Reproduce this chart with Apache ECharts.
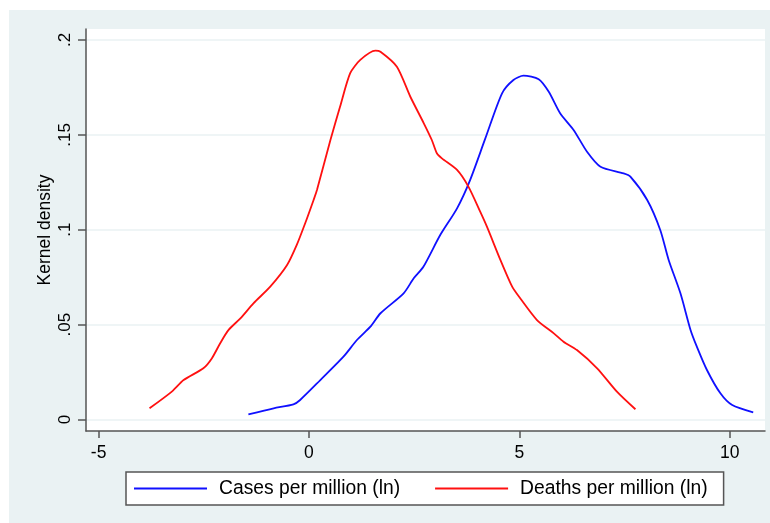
<!DOCTYPE html>
<html>
<head>
<meta charset="utf-8">
<script src="https://cdn.jsdelivr.net/npm/echarts@6/dist/echarts.min.js"></script>
<style>
html,body{margin:0;padding:0;background:#ffffff;}
#chart{width:770px;height:523px;}
</style>
</head>
<body>
<div id="chart"></div>
<script>
// Data
const seriesNames = ['Cases per million (ln)', 'Deaths per million (ln)'];
const casesX = [-1.44,-0.84,-0.37,-0.21,0.27,0.82,1.14,1.46,1.70,2.25,2.49,2.72,3.12,3.52,3.83,4.19,4.59,4.86,5.10,5.46,5.70,5.97,6.29,6.61,6.93,7.48,7.64,8.04,8.35,8.55,8.83,9.07,9.22,9.46,9.78,10.06,10.56];
const casesY = [.0027,.0059,.0080,.0103,.0208,.0331,.0419,.0489,.0560,.0665,.0744,.0805,.0972,.1113,.1262,.1480,.1719,.1789,.1812,.1793,.1727,.1614,.1526,.1411,.1332,.1297,.1280,.1157,.0999,.0841,.0665,.0472,.0384,.0261,.0138,.0076,.0038];
const deathsX = [-3.79,-3.26,-2.98,-2.51,-2.31,-2.11,-1.91,-1.63,-1.32,-0.92,-0.52,-0.29,-0.09,0.11,0.19,0.51,0.74,0.98,1.22,1.58,1.70,2.09,2.41,2.73,2.92,3.04,3.16,3.52,3.79,4.07,4.23,4.55,4.83,5.02,5.42,5.82,6.05,6.37,6.85,7.32,7.76];
const deathsY = [.0059,.0147,.0208,.0270,.0322,.0402,.0472,.0533,.0612,.0700,.0814,.0920,.1034,.1157,.1209,.1473,.1649,.1825,.1895,.1944,.1938,.1859,.1701,.1561,.1473,.1403,.1376,.1315,.1227,.1095,.1016,.0841,.0700,.0639,.0524,.0454,.0410,.0366,.0270,.0147,.0054];
const xTicks = [-5, 0, 5, 10];
const yTicks = [0, 0.05, 0.1, 0.15, 0.2];
const yTitle = 'Kernel density';

const zip = (xs, ys) => xs.map((x, i) => [x, ys[i]]);
const font = 'Arial, "Liberation Sans", Helvetica, sans-serif';
const axisCol = '#555555';
const bgCol = '#eaf2f3';

const chart = echarts.init(document.getElementById('chart'), null, {renderer: 'canvas'});
chart.setOption({
  animation: false,
  backgroundColor: '#ffffff',
  graphic: [{
    type: 'rect', left: 9, top: 10, z: -10,
    shape: {width: 761, height: 513},
    style: {fill: bgCol}
  }, {
    type: 'text', x: 45, y: 230, rotation: Math.PI / 2, z: 10,
    style: {text: yTitle, fontSize: 17.5, fontFamily: font, fill: '#000', align: 'center', verticalAlign: 'middle'}
  }],
  grid: {
    left: 86, right: 5, top: 29, bottom: 92,
    show: true, backgroundColor: '#ffffff', borderWidth: 0
  },
  xAxis: {
    type: 'value', min: -5.3, max: 10.84,
    axisLine: {show: true, onZero: false, lineStyle: {color: axisCol, width: 1.5}},
    axisTick: {show: true, length: 7, customValues: xTicks, lineStyle: {color: axisCol, width: 1.5}},
    axisLabel: {customValues: xTicks, fontSize: 17.5, fontFamily: font, color: '#000', margin: 13, showMinLabel: true, showMaxLabel: true},
    splitLine: {show: false}
  },
  yAxis: {
    type: 'value', min: -0.00606, max: 0.2058,
    axisLine: {show: true, onZero: false, lineStyle: {color: axisCol, width: 1.5}},
    axisTick: {show: true, length: 8, customValues: yTicks, lineStyle: {color: axisCol, width: 1.5}},
    axisLabel: {
      customValues: yTicks, rotate: 90, fontSize: 17, fontFamily: font, color: '#000', margin: 12,
      formatter: v => v === 0 ? '0' : String(v).replace(/^0/, '')
    },
    splitLine: {show: true, lineStyle: {color: bgCol, width: 1.5}}
  },
  legend: {
    left: 126, top: 472,
    data: seriesNames,
    icon: 'rect',
    backgroundColor: '#ffffff', borderColor: axisCol, borderWidth: 1.5,
    padding: [6, 16, 6, 8],
    itemWidth: 73, itemHeight: 1.8, itemGap: 35,
    textStyle: {fontSize: 19.3, fontFamily: font, color: '#000', padding: [0, 0, 0, 7], lineHeight: 21}
  },
  series: [
    {
      name: seriesNames[0], type: 'line', data: zip(casesX, casesY),
      symbol: 'none', smooth: 0.25, clip: false,
      color: '#1010ff', lineStyle: {color: '#1010ff', width: 1.8}
    },
    {
      name: seriesNames[1], type: 'line', data: zip(deathsX, deathsY),
      symbol: 'none', smooth: 0.25, clip: false,
      color: '#ff1010', lineStyle: {color: '#ff1010', width: 1.8}
    }
  ]
});
</script>
</body>
</html>
